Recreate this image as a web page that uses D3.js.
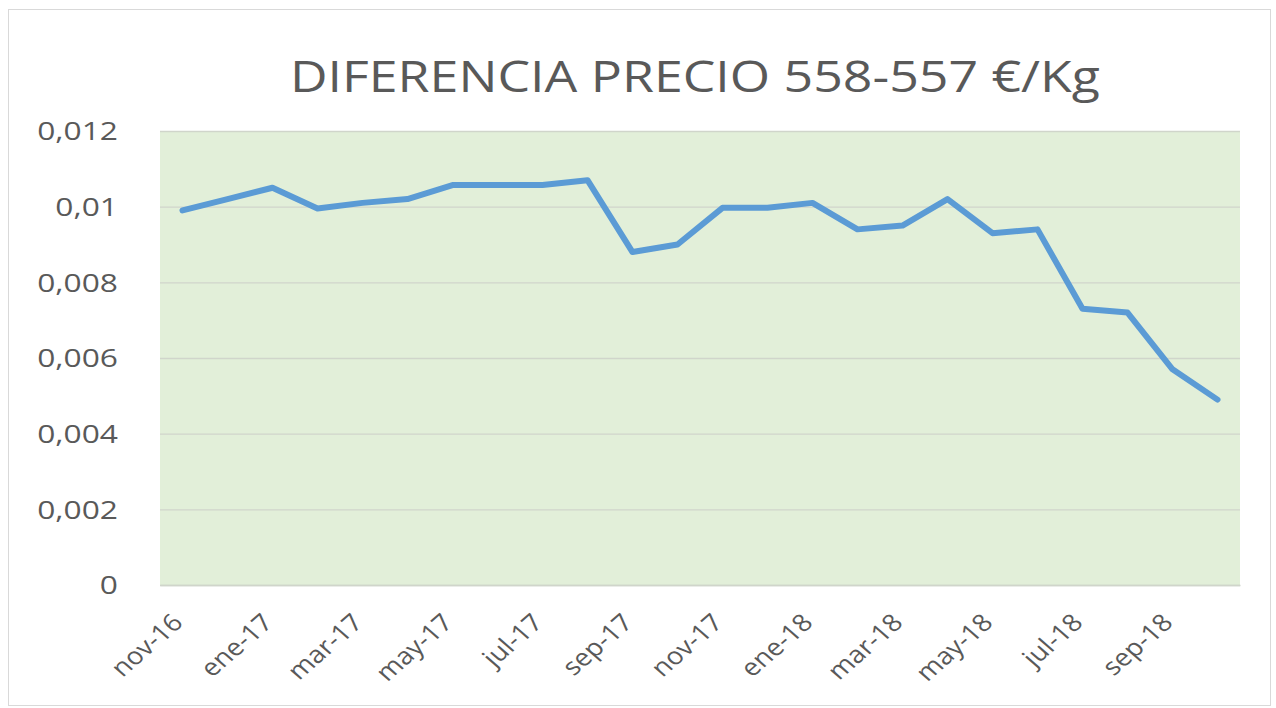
<!DOCTYPE html>
<html><head><meta charset="utf-8">
<script src="https://cdn.jsdelivr.net/npm/d3@7"></script>
<style>
body{margin:0;background:#fff;}
svg text{font-family:"Open Sans","Liberation Sans",sans-serif;fill:#595959;}
</style></head>
<body><svg id="c" width="1276" height="708"></svg>
<script>
const months = ["nov-16","dic-16","ene-17","feb-17","mar-17","abr-17","may-17","jun-17","jul-17","ago-17","sep-17","oct-17","nov-17","dic-17","ene-18","feb-18","mar-18","abr-18","may-18","jun-18","jul-18","ago-18","sep-18","oct-18"];
const values = [0.0099,0.0102,0.0105,0.00995,0.0101,0.0102,0.01057,0.01057,0.01057,0.0107,0.0088,0.0090,0.00997,0.00997,0.0101,0.0094,0.0095,0.0102,0.0093,0.0094,0.0073,0.0072,0.0057,0.0049];
const yTicks = [0,0.002,0.004,0.006,0.008,0.01,0.012];
const yTickLabels = ["0","0,002","0,004","0,006","0,008","0,01","0,012"];
const xLabelMonths = months.filter((m,i)=>i%2===0);
const title = "DIFERENCIA PRECIO 558-557 €/Kg";

const svg = d3.select("#c");
const SX = 1.27;  // horizontal stretch of y labels seen in the reference
const SXL = 1.15; // stretch of rotated x labels

svg.append("rect").attr("x",8.5).attr("y",9.5).attr("width",1262).attr("height",696)
  .attr("fill","#fff").attr("stroke","#d9d9d9").attr("stroke-width",1);

const x=d3.scaleBand().domain(months).range([160,1240]);
const y=d3.scaleLinear().domain([0,0.012]).range([585,131]);

svg.append("rect").attr("x",160).attr("y",131).attr("width",1080).attr("height",454).attr("fill","#e2efd9");

svg.append("g").selectAll("line").data(yTicks).join("line")
  .attr("x1",160).attr("x2",1240).attr("y1",d=>y(d)+0.5).attr("y2",d=>y(d)+0.5)
  .attr("stroke","#d0d5cb").attr("stroke-width",1.3);

const yAxis=d3.axisLeft(y).tickValues(yTicks).tickFormat((d,i)=>yTickLabels[i]).tickSize(0);
svg.append("g").attr("transform","translate(160,0)").call(yAxis)
  .call(s=>s.select(".domain").remove())
  .selectAll("text").style("font-size","25px").attr("fill","#595959")
  .attr("x",0).attr("dy","0.35em").attr("text-anchor","end")
  .attr("transform",`translate(-42,0) scale(${SX},1)`);

const xAxis=d3.axisBottom(x).tickValues(xLabelMonths).tickSize(0);
const xa=svg.append("g").attr("transform","translate(0,585)").call(xAxis);
xa.select(".domain").attr("stroke","#d0d5cb").attr("stroke-width",1.3);
xa.selectAll("text").style("font-size","24px").attr("fill","#595959")
  .attr("text-anchor","end").attr("dy",null).attr("y",0).attr("x",0)
  .attr("transform",`translate(2,39) scale(${SXL},1) rotate(-45)`);

const line=d3.line().x((d,i)=>x(months[i])+x.bandwidth()/2).y(d=>y(d));
svg.append("path").datum(values).attr("d",line).attr("fill","none")
  .attr("stroke","#5b9bd5").attr("stroke-width",6).attr("stroke-linejoin","round").attr("stroke-linecap","round");

svg.append("text").attr("x",695).attr("y",92).attr("text-anchor","middle")
  .style("font-size","44px").attr("textLength",810).attr("lengthAdjust","spacingAndGlyphs").text(title);
</script></body></html>
